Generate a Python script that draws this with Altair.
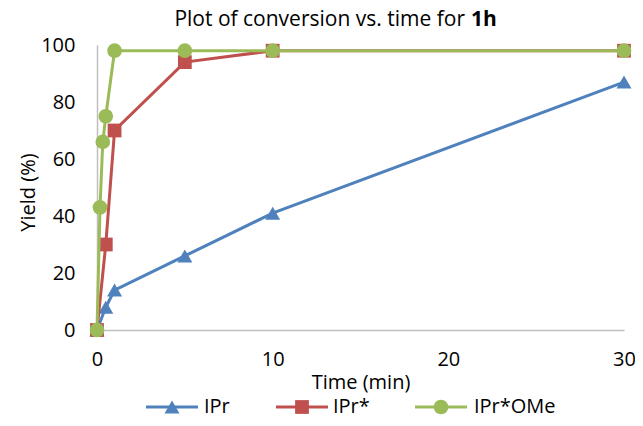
import altair as alt
import pandas as pd

# ---- data ----
series_names = ["IPr", "IPr*", "IPr*OMe"]
ipr_time = [0, 0.5, 1, 5, 10, 30]
ipr_yield = [0, 8, 14, 26, 41, 87]
iprs_time = [0, 0.5, 1, 5, 10, 30]
iprs_yield = [0, 30, 70, 94, 98, 98]
iprsome_time = [0, 0.17, 0.33, 0.5, 1, 5, 10, 30]
iprsome_yield = [0, 43, 66, 75, 98, 98, 98, 98]
colors = ["#4F81BD", "#C0504D", "#9BBB59"]
marker_shapes = ["triangle-up", "square", "circle"]
marker_sizes = [225, 190, 215]
x_ticks = [0, 10, 20, 30]
y_ticks = [0, 20, 40, 60, 80, 100]
title_main = "Plot of conversion vs. time for"
title_bold = "1h"

rows = []
for name, ts, ys in zip(series_names,
                        [ipr_time, iprs_time, iprsome_time],
                        [ipr_yield, iprs_yield, iprsome_yield]):
    for t, y in zip(ts, ys):
        rows.append({"series": name, "time": t, "yield": y})
df = pd.DataFrame(rows)

FONT = "Open Sans"
W, H = 527, 285

# legend layout (pixels relative to the plot area's top-left corner)
legend_sym_x = [75, 205, 344]
legend_label_x = [107, 236, 377]
legend_y = 362
legend_half_line = 26

color_scale = alt.Scale(domain=series_names, range=colors)

x_enc = alt.X("time:Q", scale=alt.Scale(domain=[0, 30], nice=False),
              axis=alt.Axis(values=x_ticks, title="Time (min)", grid=False,
                            ticks=False, tickSize=0, labelPadding=19, labelFlush=False,
                            labelFont=FONT, labelFontSize=20, labelColor="#000000",
                            titleFont=FONT, titleFontSize=20, titleFontWeight="normal",
                            titleColor="#000000", titleX=W / 2, titleY=52,
                            titleBaseline="middle",
                            domainColor="#BFBFBF", domainWidth=1.5))
y_enc = alt.Y("yield:Q", scale=alt.Scale(domain=[0, 100], nice=False),
              axis=alt.Axis(values=y_ticks, title="Yield (%)", grid=False,
                            ticks=False, tickSize=0, labelPadding=22, labelFlush=False,
                            labelFont=FONT, labelFontSize=20, labelColor="#000000",
                            titleFont=FONT, titleFontSize=20, titleFontWeight="normal",
                            titleColor="#000000", titleX=-69, titleY=147,
                            titleAngle=-90, titleAlign="center", titleBaseline="middle",
                            domainColor="#BFBFBF", domainWidth=1.5))

base = alt.Chart(df)
layers = []
for name, shp, sz in zip(series_names, marker_shapes, marker_sizes):
    sub = base.transform_filter(alt.datum.series == name)
    line = sub.mark_line(strokeWidth=3).encode(
        x=x_enc, y=y_enc,
        color=alt.Color("series:N", scale=color_scale, legend=None),
    )
    pts = sub.mark_point(filled=True, shape=shp, size=sz, opacity=1).encode(
        x="time:Q", y="yield:Q",
        color=alt.Color("series:N", scale=color_scale, legend=None),
    )
    layers += [line, pts]

# legend drawn as line + marker + label per series
for name, col, shp, sz, sx, lx in zip(series_names, colors, marker_shapes, marker_sizes,
                                      legend_sym_x, legend_label_x):
    ld = alt.Chart(pd.DataFrame({"series": [name]}))
    layers.append(ld.mark_rule(color=col, strokeWidth=3).encode(
        x=alt.value(sx - legend_half_line), x2=alt.value(sx + legend_half_line),
        y=alt.value(legend_y)))
    layers.append(ld.mark_point(filled=True, shape=shp, size=sz, color=col, opacity=1).encode(
        x=alt.value(sx), y=alt.value(legend_y)))
    layers.append(ld.mark_text(font=FONT, fontSize=20, align="left", baseline="middle",
                               color="#000000").encode(
        text="series:N", x=alt.value(lx), y=alt.value(legend_y)))

t1 = alt.Chart(pd.DataFrame({"t": [title_main]})).mark_text(
    font=FONT, fontSize=21, align="right", baseline="middle", color="#000000"
).encode(text="t:N", x=alt.value(368), y=alt.value(-25))
t2 = alt.Chart(pd.DataFrame({"t": [title_bold]})).mark_text(
    font=FONT, fontSize=21, fontWeight="bold", align="left", baseline="middle", color="#000000"
).encode(text="t:N", x=alt.value(374), y=alt.value(-25))
layers += [t1, t2]

chart = alt.layer(*layers).properties(
    width=W, height=H,
    autosize=alt.AutoSizeParams(type="none"),
    padding={"left": 89, "top": 37, "right": 11, "bottom": 88},
    background="white",
).configure_view(stroke=None)

chart.save("out.html", embed_options={"renderer": "svg", "actions": False})
